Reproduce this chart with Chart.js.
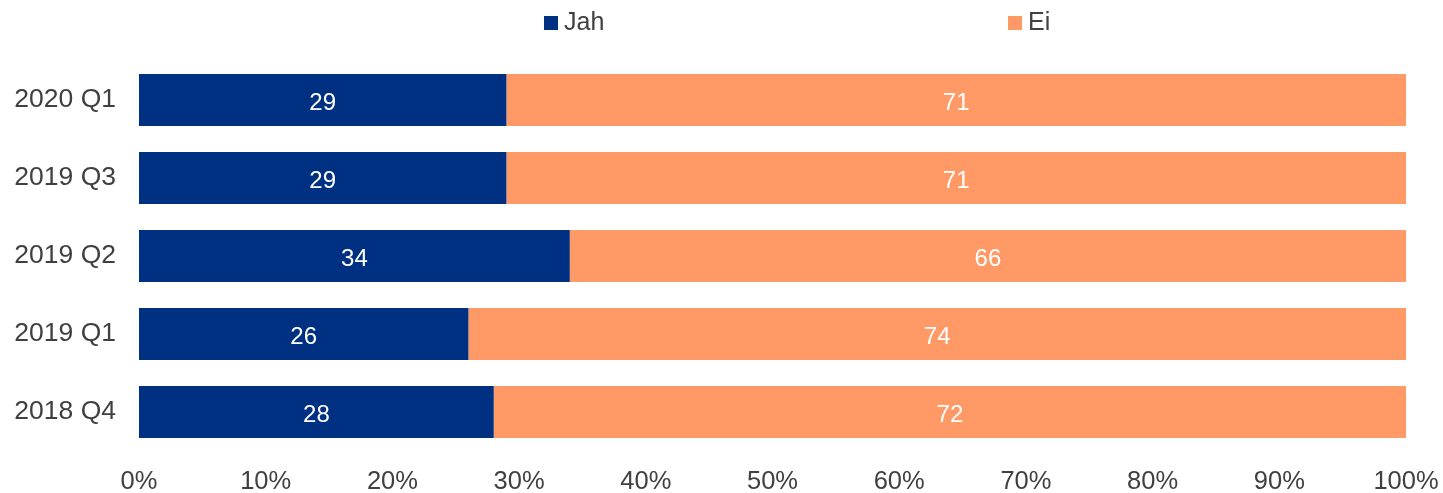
<!DOCTYPE html>
<html>
<head>
<meta charset="utf-8">
<script src="https://cdn.jsdelivr.net/npm/chart.js@4"></script>
<style>
  html, body { margin: 0; padding: 0; background: #fff; }
  #wrap { width: 1443px; height: 493px; }
</style>
</head>
<body>
<div id="wrap"><canvas id="chart"></canvas></div>
<script>
// categories, top to bottom as in the picture
const categories = ['2020 Q1', '2019 Q3', '2019 Q2', '2019 Q1', '2018 Q4'];
const jahValues = [29, 29, 34, 26, 28];
const eiValues = [71, 71, 66, 74, 72];
const seriesNames = ['Jah', 'Ei'];
const seriesColors = ['#003082', '#FF9966'];
const xTicks = [0, 10, 20, 30, 40, 50, 60, 70, 80, 90, 100];

const textColor = '#404040';
const fontFamily = '"Liberation Sans", Arial, sans-serif';

// values written in the middle of each bar piece
const valueLabels = {
	id: 'valueLabels',
	afterDatasetsDraw(chart) {
		const ctx = chart.ctx;
		ctx.save();
		ctx.fillStyle = '#ffffff';
		ctx.font = '24px ' + fontFamily;
		ctx.textAlign = 'center';
		ctx.textBaseline = 'middle';
		chart.data.datasets.forEach((ds, i) => {
			chart.getDatasetMeta(i).data.forEach((bar, j) => {
				const x = (bar.x + bar.base) / 2;
				ctx.fillText(String(ds.data[j]), x, bar.y + 3);
			});
		});
		ctx.restore();
	}
};

// legend spread out like the original
const spreadLegend = {
	id: 'spreadLegend',
	afterDraw(chart) {
		const ctx = chart.ctx;
		const spots = [544, 1008];
		ctx.save();
		ctx.font = '25px ' + fontFamily;
		ctx.textBaseline = 'middle';
		seriesNames.forEach((name, i) => {
			ctx.fillStyle = seriesColors[i];
			ctx.fillRect(spots[i], 16, 14, 14);
			ctx.fillStyle = textColor;
			ctx.fillText(name, spots[i] + 20, 23);
		});
		ctx.restore();
	}
};

const ctx = document.getElementById('chart').getContext('2d');
const myChart = new Chart(ctx, {
	type: 'bar',
	data: {
		labels: categories,
		datasets: [
			{
				label: seriesNames[0],
				data: jahValues,
				backgroundColor: seriesColors[0],
				borderWidth: 0,
				categoryPercentage: 1,
				barPercentage: 0.667
			},
			{
				label: seriesNames[1],
				data: eiValues,
				backgroundColor: seriesColors[1],
				borderWidth: 0,
				categoryPercentage: 1,
				barPercentage: 0.667
			}
		]
	},
	options: {
		indexAxis: 'y',
		responsive: true,
		maintainAspectRatio: false,
		animation: false,
		layout: {
			padding: { top: 61, right: 37, left: 0, bottom: 0 }
		},
		plugins: {
			legend: { display: false },
			tooltip: { enabled: false }
		},
		scales: {
			x: {
				stacked: true,
				min: 0,
				max: 100,
				afterBuildTicks: (scale) => {
					scale.ticks = xTicks.map((v) => ({ value: v }));
				},
				afterFit: (scale) => {
					scale.height = 42;
					// let the 100% label hang out past the plot edge
					scale.paddingLeft = 0;
					scale.paddingRight = 0;
				},
				grid: { display: false },
				border: { display: false },
				ticks: {
					color: textColor,
					font: { family: fontFamily, size: 25.5 },
					padding: 8,
					maxRotation: 0,
					callback: (v) => v + '%'
				}
			},
			y: {
				stacked: true,
				afterFit: (scale) => {
					scale.width = 139;
				},
				grid: { display: false },
				border: { display: false },
				ticks: {
					color: textColor,
					font: { family: fontFamily, size: 26.5 },
					padding: 15
				}
			}
		}
	},
	plugins: [valueLabels, spreadLegend]
});
</script>
</body>
</html>
